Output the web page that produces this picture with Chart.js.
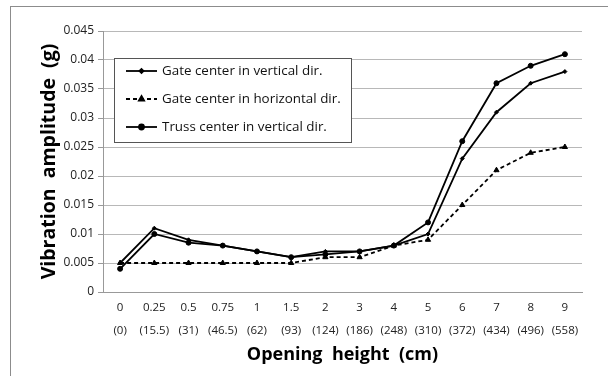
<!DOCTYPE html>
<html>
<head>
<meta charset="utf-8">
<script src="https://cdn.jsdelivr.net/npm/chart.js@4.4.1/dist/chart.umd.min.js"></script>
<style>
  html, body { margin: 0; padding: 0; background: #fff; }
  #wrap { position: relative; width: 608px; height: 376px; overflow: hidden; }
  #frame { position: absolute; left: 10px; top: 6px; width: 620px; height: 400px; border: 1px solid #8c8c8c; }
  canvas { position: absolute; left: 0; top: 0; }
</style>
</head>
<body>
<div id="wrap">
  <div id="frame"></div>
  <canvas id="chart" width="608" height="376"></canvas>
</div>
<script>
// --- Datos del gráfico ---
const openingCm = ['0', '0.25', '0.5', '0.75', '1', '1.5', '2', '3', '4', '5', '6', '7', '8', '9'];
const openingMm = ['(0)', '(15.5)', '(31)', '(46.5)', '(62)', '(93)', '(124)', '(186)', '(248)', '(310)', '(372)', '(434)', '(496)', '(558)'];

const gateVertical   = [0.005, 0.011, 0.009, 0.008, 0.007, 0.006, 0.007, 0.007, 0.008, 0.010, 0.023, 0.031, 0.036, 0.038];
const gateHorizontal = [0.005, 0.005, 0.005, 0.005, 0.005, 0.005, 0.006, 0.006, 0.008, 0.009, 0.015, 0.021, 0.024, 0.025];
const trussVertical  = [0.004, 0.010, 0.0085, 0.008, 0.007, 0.006, 0.0065, 0.007, 0.008, 0.012, 0.026, 0.036, 0.039, 0.041];

const seriesNames = ['Gate center in vertical dir.', 'Gate center in horizontal dir.', 'Truss center in vertical dir.'];

const FONT = '"Open Sans", "Noto Sans", sans-serif';

// leyenda dentro del área del gráfico (como en el original)
const boxLegend = {
    id: 'boxLegend',
    afterDraw(chart) {
        const ctx = chart.ctx;
        const x0 = 114, y0 = 58, w = 237, h = 84;
        ctx.save();
        ctx.fillStyle = '#fff';
        ctx.fillRect(x0, y0, w, h);
        ctx.strokeStyle = '#555';
        ctx.lineWidth = 1;
        ctx.strokeRect(x0 + 0.5, y0 + 0.5, w, h);
        chart.data.datasets.forEach((ds, i) => {
            const y = y0 + 13 + i * 28;
            ctx.strokeStyle = '#000';
            ctx.lineWidth = ds.borderWidth;
            ctx.setLineDash(ds.borderDash || []);
            ctx.beginPath();
            ctx.moveTo(126, y);
            ctx.lineTo(157, y);
            ctx.stroke();
            ctx.setLineDash([]);
            ctx.fillStyle = '#000';
            Chart.helpers.drawPoint(ctx, {
                pointStyle: ds.pointStyle, radius: ds.pointRadius, rotation: 0, borderWidth: 1
            }, 141.5, y);
            ctx.fillStyle = '#111';
            ctx.font = '13.4px ' + FONT;
            ctx.textBaseline = 'middle';
            ctx.textAlign = 'left';
            ctx.fillText(ds.label, 162, y);
        });
        ctx.restore();
    }
};

const mkSet = (label, data, style, radius, dash) => ({
    label,
    data,
    borderColor: '#000',
    backgroundColor: '#000',
    borderWidth: 1.8,
    borderDash: dash,
    pointStyle: style,
    pointRadius: radius,
    pointBorderWidth: 1,
    tension: 0,
});

new Chart(document.getElementById('chart').getContext('2d'), {
    type: 'line',
    data: {
        labels: openingCm.map((c, i) => [c, openingMm[i]]),
        datasets: [
            mkSet(seriesNames[0], gateVertical, 'rectRot', 2, []),
            mkSet(seriesNames[1], gateHorizontal, 'triangle', 3, [4, 3]),
            mkSet(seriesNames[2], trussVertical, 'circle', 2.5, []),
        ],
    },
    options: {
        responsive: false,
        animation: false,
        devicePixelRatio: 1,
        layout: { padding: { left: 38, right: 26, top: 31, bottom: 10 } },
        plugins: { legend: { display: false }, tooltip: { enabled: false } },
        scales: {
            x: {
                offset: true,
                grid: { display: false, drawTicks: false, offset: true },
                border: { color: '#999', width: 1 },
                ticks: {
                    color: '#222', font: { family: FONT, size: 11.5, lineHeight: 2.0 },
                    padding: 4, maxRotation: 0, autoSkip: false,
                },
                title: {
                    display: true, text: 'Opening  height  (cm)', color: '#000',
                    font: { family: FONT, size: 18, weight: 'bold' }, padding: 0,
                },
                afterFit: (s) => { s.height = 376 - 292 - 10; },
            },
            y: {
                min: 0, max: 0.045,
                grid: { color: '#b8b8b8', tickLength: 5, tickColor: '#999' },
                border: { color: '#999', width: 1 },
                ticks: {
                    stepSize: 0.005, color: '#222', padding: 4,
                    font: { family: FONT, size: 12 },
                    callback: (v) => +v.toFixed(3) + '',
                },
                title: {
                    display: true, text: 'Vibration  amplitude  (g)', color: '#000',
                    font: { family: FONT, size: 19.5, weight: 'bold' }, padding: 0,
                },
                afterFit: (s) => { s.width = 103 - 38; },
            },
        },
    },
    plugins: [boxLegend],
});
</script>
</body>
</html>
